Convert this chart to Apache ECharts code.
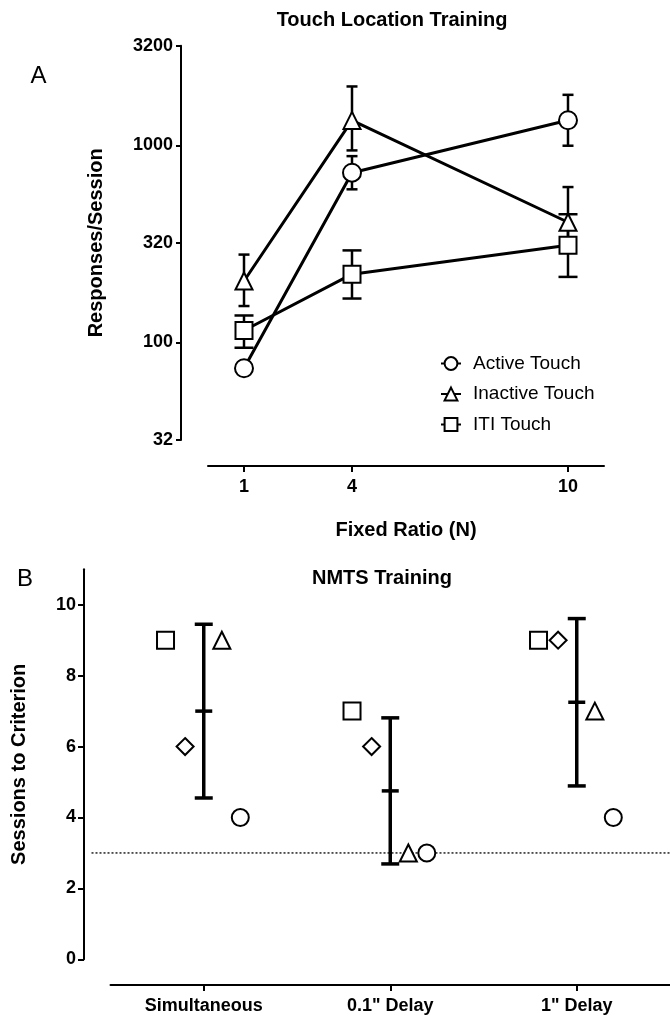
<!DOCTYPE html>
<html>
<head>
<meta charset="utf-8">
<script src="https://cdn.jsdelivr.net/npm/echarts@6/dist/echarts.min.js"></script>
<style>
html, body { margin: 0; padding: 0; background: #fff; }
#chart { width: 670px; height: 1017px; }
</style>
</head>
<body>
<div id="chart"></div>
<script>
// panel A - touch location training (log y)
var ratios = [1, 4, 10];
var ratioTicks = [1, 4, 10];
var respTicks = [32, 100, 320, 1000, 3200];
var activeMean = [74, 726, 1340];
var activeLo = [69, 598, 995];
var activeHi = [80, 881, 1803];
var inactiveMean = [205, 1337, 407];
var inactiveLo = [153, 942, 290];
var inactiveHi = [279, 1988, 614];
var itiMean = [115, 222, 311];
var itiLo = [94, 167, 215];
var itiHi = [137, 293, 447];

// panel B - NMTS sessions to criterion
var groups = ['Simultaneous', '0.1" Delay', '1" Delay'];
var squareVals = [9, 7, 9];
var diamondVals = [6, 6, 9];
var triangleVals = [9, 3, 7];
var circleVals = [4, 3, 4];
var groupMean = [7, 4.75, 7.25];
var groupSD = [2.45, 2.06, 2.36];
var criterion = 3;
var sessTicks = [0, 2, 4, 6, 8, 10];

var FONT = '"Liberation Sans", Arial, sans-serif';
var chart = echarts.init(document.getElementById('chart'));

function pairs(xs, ys) {
    return xs.map(function (x, i) { return [x, ys[i]]; });
}

function errData(xs, lo, hi) {
    return xs.map(function (x, i) { return [x, lo[i], hi[i]]; });
}

// vertical bar with caps, optional mean tick (4th value)
function errBar(cap, lw, tick) {
    return function (params, api) {
        var x = api.value(0);
        var lo = api.coord([x, api.value(1)]);
        var hi = api.coord([x, api.value(2)]);
        var st = { stroke: '#000', lineWidth: lw };
        var kids = [
            { type: 'line', shape: { x1: lo[0], y1: lo[1], x2: hi[0], y2: hi[1] }, style: st },
            { type: 'line', shape: { x1: lo[0] - cap / 2, y1: lo[1], x2: lo[0] + cap / 2, y2: lo[1] }, style: st },
            { type: 'line', shape: { x1: hi[0] - cap / 2, y1: hi[1], x2: hi[0] + cap / 2, y2: hi[1] }, style: st }
        ];
        if (tick) {
            var m = api.coord([x, api.value(3)]);
            kids.push({ type: 'line', shape: { x1: m[0] - tick / 2, y1: m[1], x2: m[0] + tick / 2, y2: m[1] }, style: st });
        }
        return { type: 'group', children: kids };
    };
}

function lineSeries(name, sym, size, ys) {
    return {
        name: name,
        type: 'line',
        xAxisIndex: 0, yAxisIndex: 0,
        data: pairs(ratios, ys),
        symbol: sym,
        symbolSize: size,
        showAllSymbol: true,
        lineStyle: { color: '#000', width: 3 },
        itemStyle: { color: '#fff', borderColor: '#000', borderWidth: 2 },
        z: 4
    };
}

function errSeries(xIdx, data, cap, lw, tick) {
    return {
        type: 'custom',
        xAxisIndex: xIdx, yAxisIndex: xIdx,
        renderItem: errBar(cap, lw, tick),
        encode: { x: 0, y: [1, 2] },
        data: data,
        z: 2
    };
}

var jitter = { sq: -0.205, dia: -0.1, tri: 0.097, circ: 0.196 };
function groupPts(vals, off) {
    return vals.map(function (v, i) { return [i + 1 + off, v]; });
}

function scatter(sym, vals, off) {
    return {
        type: 'scatter',
        xAxisIndex: 1, yAxisIndex: 1,
        symbol: sym,
        symbolSize: 17,
        data: groupPts(vals, off),
        itemStyle: { color: '#fff', borderColor: '#000', borderWidth: 2, opacity: 1 },
        z: 4
    };
}

var tickLabel = { color: '#000', fontSize: 18, fontWeight: 'bold', fontFamily: FONT };
var nameText = { color: '#000', fontSize: 20, fontWeight: 'bold', fontFamily: FONT };
var axLine = { onZero: false, lineStyle: { color: '#000', width: 2 } };

chart.setOption({
    animation: false,
    backgroundColor: '#fff',
    grid: [
        { left: 208, top: 45.7, width: 396, height: 394.3 },
        { left: 110.5, top: 569.3, width: 573, height: 390 },
        // criterion line runs from just right of the y axis to the page edge
        { left: 91.5, top: 569.3, right: 0, height: 390 }
    ],
    xAxis: [{
        gridIndex: 0, type: 'value', min: 0, max: 11, offset: 26,
        axisLine: axLine,
        axisTick: { customValues: ratioTicks, length: 6, lineStyle: { color: '#000', width: 2 } },
        axisLabel: Object.assign({ customValues: ratioTicks, margin: 12 }, tickLabel),
        splitLine: { show: false },
        name: 'Fixed Ratio (N)', nameLocation: 'middle', nameGap: 54, nameTextStyle: nameText
    }, {
        gridIndex: 1, type: 'value', min: 0.5, max: 3.5, offset: 25.7,
        axisLine: axLine,
        axisTick: { customValues: [1, 2, 3], length: 6, lineStyle: { color: '#000', width: 2 } },
        axisLabel: Object.assign({
            customValues: [1, 2, 3], margin: 12,
            formatter: function (v) { return groups[Math.round(v) - 1]; }
        }, tickLabel),
        splitLine: { show: false }
    }, {
        gridIndex: 2, type: 'value', min: 0, max: 1, show: false
    }],
    yAxis: [{
        gridIndex: 0, type: 'log', logBase: 10, min: 32, max: 3200, offset: 27,
        axisLine: axLine,
        axisTick: { customValues: respTicks, length: 5, lineStyle: { color: '#000', width: 2 } },
        axisLabel: Object.assign({
            customValues: respTicks, margin: 8,
            formatter: function (v) { return String(Math.round(v)); }
        }, tickLabel),
        splitLine: { show: false },
        minorTick: { show: false },
        name: 'Responses/Session', nameLocation: 'middle', nameGap: 74.5, nameTextStyle: nameText
    }, {
        gridIndex: 1, type: 'value', min: 0, max: 11, offset: 26.5,
        axisLine: axLine,
        axisTick: { customValues: sessTicks, length: 6, lineStyle: { color: '#000', width: 2 } },
        axisLabel: Object.assign({ customValues: sessTicks, margin: 8 }, tickLabel),
        splitLine: { show: false },
        name: 'Sessions to Criterion', nameLocation: 'middle', nameGap: 55, nameTextStyle: nameText
    }, {
        gridIndex: 2, type: 'value', min: 0, max: 11, show: false
    }],
    legend: {
        data: ['Active Touch', 'Inactive Touch', 'ITI Touch'],
        orient: 'vertical',
        left: 435, top: 349,
        itemWidth: 20, itemHeight: 16, itemGap: 11.5,
        selectedMode: false,
        textStyle: { color: '#000', fontSize: 19, fontFamily: FONT, padding: [0, 0, 0, 7] }
    },
    graphic: [
        { type: 'text', x: 392, y: 20, style: { text: 'Touch Location Training', font: 'bold 20px ' + FONT, fill: '#000', align: 'center', verticalAlign: 'middle' } },
        { type: 'text', x: 382, y: 578, style: { text: 'NMTS Training', font: 'bold 20px ' + FONT, fill: '#000', align: 'center', verticalAlign: 'middle' } },
        { type: 'text', x: 38.5, y: 76.5, style: { text: 'A', font: '24px ' + FONT, fill: '#000', align: 'center', verticalAlign: 'middle' } },
        { type: 'text', x: 25, y: 579.5, style: { text: 'B', font: '24px ' + FONT, fill: '#000', align: 'center', verticalAlign: 'middle' } }
    ],
    series: [
        errSeries(0, errData(ratios, activeLo, activeHi), 11, 2.5),
        errSeries(0, errData(ratios, inactiveLo, inactiveHi), 11, 2.5),
        errSeries(0, errData(ratios, itiLo, itiHi), 19, 2.5),
        lineSeries('Active Touch', 'circle', 18, activeMean),
        lineSeries('Inactive Touch', 'triangle', 17, inactiveMean),
        lineSeries('ITI Touch', 'rect', 17, itiMean),
        {
            type: 'line',
            xAxisIndex: 2, yAxisIndex: 2,
            data: [[0, criterion], [1, criterion]],
            symbol: 'none',
            lineStyle: { color: '#222', width: 1.5, type: [2, 2] },
            z: 1
        },
        errSeries(1, groups.map(function (g, i) {
            return [i + 1, groupMean[i] - groupSD[i], groupMean[i] + groupSD[i], groupMean[i]];
        }), 18, 3.5, 17),
        scatter('rect', squareVals, jitter.sq),
        scatter('diamond', diamondVals, jitter.dia),
        scatter('triangle', triangleVals, jitter.tri),
        scatter('circle', circleVals, jitter.circ)
    ]
});
</script>
</body>
</html>
